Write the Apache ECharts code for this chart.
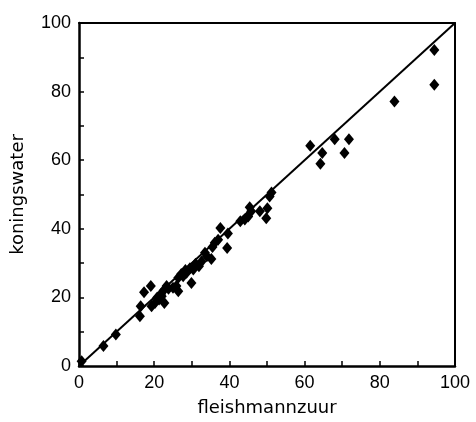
<!DOCTYPE html>
<html>
<head>
<meta charset="utf-8">
<script src="https://cdn.jsdelivr.net/npm/echarts@6/dist/echarts.min.js"></script>
<style>
  html, body { margin: 0; padding: 0; background: #fff; }
  #chart { width: 476px; height: 422px; }
</style>
</head>
<body>
<div id="chart"></div>
<script>
// Fleishmann acid vs aqua regia determinations
const fleishmann = [
  0.7, 6.5, 9.8, 16.2, 16.4, 17.3, 19.1, 19.3, 20.2, 20.8,
  21.3, 21.8, 22.0, 22.7, 22.5, 23.3, 23.8, 25.0, 25.9, 26.4,
  26.4, 27.2, 27.7, 28.3, 28.6, 29.5, 29.9, 30.4, 31.0, 31.9,
  32.6, 33.5, 34.0, 35.2, 35.5, 36.1, 37.0, 37.6, 39.4, 39.6,
  42.9, 44.1, 45.0, 45.4, 45.8, 48.1, 49.8, 50.1, 50.7, 51.2,
  61.5, 64.2, 64.7, 68.0, 70.6, 71.8, 83.9, 94.5, 94.5
];
const koningswater = [
  1.4, 5.8, 9.2, 14.5, 17.4, 21.5, 23.3, 17.4, 18.4, 20.0,
  19.4, 21.0, 20.3, 18.4, 22.0, 23.3, 22.5, 22.8, 23.3, 21.8,
  25.7, 26.8, 26.2, 28.0, 27.2, 28.5, 24.2, 28.1, 29.8, 29.1,
  30.5, 33.0, 32.0, 31.2, 34.7, 35.9, 36.8, 40.2, 34.4, 38.6,
  42.2, 42.7, 43.6, 46.3, 45.1, 45.1, 43.1, 46.0, 49.4, 50.6,
  64.2, 59.0, 62.1, 66.1, 62.1, 66.1, 77.1, 92.1, 82.0
];
// reference line y = x
const lineX = [0, 100];
const lineY = [0, 100];
const axisMin = 0, axisMax = 100, labelStep = 20;

const points = fleishmann.map((x, i) => [x, koningswater[i]]);
const linePts = lineX.map((x, i) => [x, lineY[i]]);

const labelFont = { fontFamily: 'Liberation Sans, Arial, sans-serif', fontSize: 18, color: '#000' };
const nameFont = { fontFamily: 'DejaVu Sans, sans-serif', fontSize: 18, color: '#000' };

function mainAxis(name, pos, extra) {
  return Object.assign({
    type: 'value', position: pos, min: axisMin, max: axisMax, interval: labelStep,
    name: name, nameLocation: 'middle',
    nameTextStyle: Object.assign({}, nameFont),
    axisLine: { show: true, onZero: false, lineStyle: { color: '#000', width: 2.5 } },
    axisTick: { show: true, inside: true, length: 5, lineStyle: { color: '#000', width: 1.5 } },
    minorTick: { show: true, splitNumber: 2, length: 5, lineStyle: { color: '#000', width: 1.5 } },
    axisLabel: Object.assign({ margin: 8 }, labelFont),
    splitLine: { show: false }
  }, extra);
}
function frameAxis(pos) {
  return {
    type: 'value', position: pos, min: axisMin, max: axisMax,
    axisLine: { show: true, onZero: false, lineStyle: { color: '#000', width: 2 } },
    axisTick: { show: false }, axisLabel: { show: false }, splitLine: { show: false }
  };
}

const chart = echarts.init(document.getElementById('chart'), null, { renderer: 'canvas' });
chart.setOption({
  animation: false,
  backgroundColor: '#fff',
  grid: { left: 79, right: 21, top: 23, bottom: 56 },
  xAxis: [
    mainAxis('fleishmannzuur', 'bottom', { nameGap: 33 }),
    frameAxis('top')
  ],
  yAxis: [
    mainAxis('koningswater', 'left', { nameGap: 52 }),
    frameAxis('right')
  ],
  series: [
    {
      type: 'line', data: linePts, showSymbol: false, symbol: 'none',
      lineStyle: { color: '#000', width: 2 }, z: 2
    },
    {
      type: 'scatter', data: points, symbol: 'diamond', symbolSize: [10, 12],
      itemStyle: { color: '#000', opacity: 1 }, z: 3
    }
  ]
});
</script>
</body>
</html>
